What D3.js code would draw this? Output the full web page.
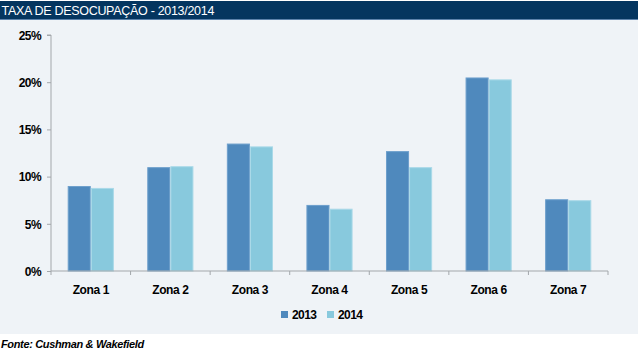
<!DOCTYPE html>
<html><head><meta charset="utf-8">
<script src="https://cdn.jsdelivr.net/npm/d3@7/dist/d3.min.js"></script>
<style>
html,body{margin:0;padding:0;background:#fff;}
svg{display:block;font-family:"Liberation Sans",Arial,sans-serif;}
</style></head>
<body>
<svg id="chart" width="640" height="356"></svg>
<script>
const title = "TAXA DE DESOCUPAÇÃO - 2013/2014";
const source = "Fonte: Cushman & Wakefield";
const categories = ["Zona 1","Zona 2","Zona 3","Zona 4","Zona 5","Zona 6","Zona 7"];
const seriesNames = ["2013","2014"];
const values2013 = [9.0, 11.0, 13.5, 7.0, 12.7, 20.5, 7.6];
const values2014 = [8.8, 11.1, 13.2, 6.6, 11.0, 20.3, 7.5];
const yTicks = [0, 5, 10, 15, 20, 25];
const colors = ["#4f89bd", "#88c9dd"];
const strokes = ["#6d9fcc", "#a9d9e8"];

(function(){
const svg = d3.select("#chart");
// background panel
svg.append("rect").attr("x",0).attr("y",19).attr("width",638).attr("height",315).attr("fill","#eff3f7");
// title bar
svg.append("rect").attr("x",0).attr("y",1).attr("width",638).attr("height",18).attr("fill","#04355f");
svg.append("rect").attr("x",0).attr("y",19).attr("width",638).attr("height",1).attr("fill","#5c82ab");
svg.append("text").attr("x",1.5).attr("y",14.5).attr("fill","#fff")
  .style("font-size","12.5px").style("letter-spacing","-0.3px").text(title);

const pL = 51, pR = 608, pT = 35, pB = 271;
const x = d3.scaleBand().domain(categories).range([pL,pR]).paddingInner(0.42).paddingOuter(0.21);
const xs = d3.scaleBand().domain(seriesNames).range([0,x.bandwidth()]).padding(0);
const y = d3.scaleLinear().domain([0,25]).range([pB,pT]);

const data = categories.map((c,i)=>({cat:c, vals:[values2013[i], values2014[i]]}));

const g = svg.append("g");
data.forEach(d=>{
  d.vals.forEach((v,j)=>{
    g.append("rect")
      .attr("x", x(d.cat)+xs(seriesNames[j])+0.5)
      .attr("y", y(v)+0.5)
      .attr("width", xs.bandwidth()-1)
      .attr("height", y(0)-y(v)-0.5)
      .attr("fill", colors[j])
      .attr("stroke", strokes[j]).attr("stroke-width",1);
  });
});

// y axis
const yAxis = d3.axisLeft(y).tickValues(yTicks).tickFormat(d=>d+"%").tickSize(4).tickPadding(6);
const ya = svg.append("g").attr("transform",`translate(${pL},0)`).call(yAxis);
ya.select(".domain").attr("stroke","#a3a7ab").attr("d",`M-4,${pT}H0V${pB}`);
ya.selectAll(".tick line").attr("stroke","#a3a7ab");
ya.selectAll(".tick text").attr("fill","#000").style("font-size","12px").style("font-weight","bold")
  .style("letter-spacing","-0.6px").attr("dy","0.35em");

// x axis
const xa = svg.append("g").attr("transform",`translate(0,${pB})`);
xa.append("line").attr("x1",pL).attr("x2",pR).attr("y1",0).attr("y2",0).attr("stroke","#a3a7ab");
const bounds = categories.map(c=>x(c)-x.step()*x.paddingInner()/2).concat([pR]);
xa.selectAll("line.tk").data(bounds).join("line").attr("class","tk")
  .attr("x1",d=>d).attr("x2",d=>d).attr("y1",0).attr("y2",4).attr("stroke","#a3a7ab");
xa.selectAll("text").data(categories).join("text")
  .attr("x",d=>x(d)+x.bandwidth()/2).attr("y",23).attr("text-anchor","middle")
  .style("font-size","12px").style("font-weight","bold").style("letter-spacing","-0.4px").text(d=>d);

// legend
const lg = svg.append("g");
const legX = [281, 327];
seriesNames.forEach((s,i)=>{
  lg.append("rect").attr("x",legX[i]).attr("y",311).attr("width",7).attr("height",7).attr("fill",colors[i]);
  lg.append("text").attr("x",legX[i]+11).attr("y",319).style("font-size","12px").style("font-weight","bold")
    .style("letter-spacing","-0.6px").text(s);
});

// source
svg.append("text").attr("x",1).attr("y",348).style("font-size","11px").style("font-weight","bold")
  .style("font-style","italic").style("letter-spacing","-0.35px").text(source);
})();
</script>
</body></html>
